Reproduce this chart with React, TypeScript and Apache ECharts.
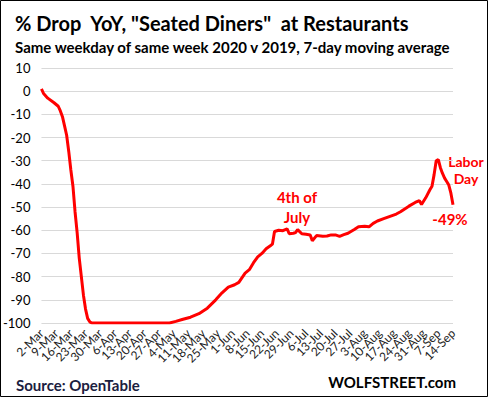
import React, { useEffect, useRef } from "react";
import * as echarts from "echarts";

const MONTHS = ["Jan", "Feb", "Mar", "Apr", "May", "Jun", "Jul", "Aug", "Sep", "Oct", "Nov", "Dec"];
const START = { year: 2020, month: 2, day: 2 };
const DAY_COUNT = 197;
const LABEL_EVERY = 7;

// daily category labels 2-Mar ... 14-Sep
const categories: string[] = [];
for (let i = 0; i < DAY_COUNT; i++) {
  const d = new Date(Date.UTC(START.year, START.month, START.day + i));
  categories.push(`${d.getUTCDate()}-${MONTHS[d.getUTCMonth()]}`);
}

// readings (day offset from 2-Mar, % drop YoY)
const pointDays = [
  0, 1, 3, 6, 8, 9, 10, 11, 12, 13, 14, 15, 16, 17, 18, 19, 20, 21, 22, 23, 24,
  61, 64, 67, 71, 75, 79, 83, 86, 89, 92, 94, 97, 99, 101, 103, 105, 107, 109, 110,
  111, 113, 115, 117, 118, 120, 121, 122, 124, 126, 128, 129, 131, 134, 136, 138, 140,
  142, 144, 146, 149, 151, 154, 156, 158, 160, 163, 166, 169, 171, 173, 175, 178, 180,
  181, 183, 185, 186, 187, 188, 189, 190, 191, 192, 193, 194, 195, 196,
];
const pointValues = [
  1, -1, -3, -5, -6.5, -8.5, -11, -15, -19, -26, -34, -41, -52, -61, -72, -80, -88, -94, -98, -99.5, -100,
  -100, -99.3, -98.5, -97.5, -96, -93.6, -90, -87, -84.5, -83.5, -82.5, -78.5, -77, -74, -71.5, -70, -68, -66.7, -66,
  -60.5, -60, -60.2, -59.4, -61.5, -61.3, -61, -59.7, -61.5, -61.7, -62, -64.5, -62.3, -62.6, -62.5, -62, -62,
  -62.6, -61.9, -61.3, -59.7, -58.5, -58.3, -58.5, -57, -56, -55, -54, -53, -52, -50.8, -49.6, -48, -47.2,
  -48.9, -46, -42.5, -41, -36, -30, -29.5, -33, -35.5, -37.5, -39, -40.5, -44, -49,
];

const Y_MIN = -100;
const Y_MAX = 10;
const Y_STEP = 10;

const FONT = "Lato";

export default function App() {
  const ref = useRef<HTMLDivElement>(null);
  useEffect(() => {
    document.body.style.margin = "0";
    if (!ref.current) return;
    const chart = echarts.init(ref.current, null, { renderer: "svg" });
    const data = pointDays.map((d, i) => [categories[d], pointValues[i]]);
    const red = { fontFamily: FONT, fontWeight: "bold", fontSize: 15, fill: "#ff0000", textAlign: "center", textVerticalAlign: "middle" };
    chart.setOption({
      animation: false,
      backgroundColor: "#ffffff",
      grid: { left: 37, right: 35, top: 68, bottom: 74, containLabel: false },
      xAxis: {
        type: "category",
        data: categories,
        boundaryGap: false,
        axisLine: { show: false },
        axisTick: { show: false },
        splitLine: { show: false },
        axisLabel: {
          interval: 0,
          rotate: 45,
          margin: 8,
          hideOverlap: false,
          formatter: (value: string, index: number) => (index % LABEL_EVERY === 0 ? value : ""),
          fontFamily: FONT,
          fontSize: 12,
          color: "#222",
        },
      },
      yAxis: {
        type: "value",
        min: Y_MIN,
        max: Y_MAX,
        interval: Y_STEP,
        axisLine: { show: false },
        axisTick: { show: false },
        splitLine: { lineStyle: { color: "#d9d9d9", width: 1 } },
        axisLabel: { fontFamily: FONT, fontSize: 13, color: "#000", margin: 11 },
      },
      series: [
        {
          type: "line",
          data,
          showSymbol: false,
          symbol: "none",
          lineStyle: { color: "#ff0000", width: 3 },
          itemStyle: { color: "#ff0000" },
        },
      ],
      graphic: [
        {
          type: "rect",
          shape: { x: 0.5, y: 0.5, width: 487, height: 396 },
          style: { fill: "none", stroke: "#000", lineWidth: 1 },
          silent: true,
        },
        {
          type: "text",
          x: 15,
          y: 23,
          style: {
            text: '% Drop  YoY, "Seated Diners"  at Restaurants',
            fontFamily: FONT,
            fontWeight: "bold",
            fontSize: 20,
            fill: "#000",
            textVerticalAlign: "middle",
          },
        },
        {
          type: "text",
          x: 15,
          y: 47,
          style: {
            text: "Same weekday of same week 2020 v 2019, 7-day moving average",
            fontFamily: FONT,
            fontWeight: "bold",
            fontSize: 15,
            fill: "#000",
            textVerticalAlign: "middle",
          },
        },
        {
          type: "text",
          x: 297,
          y: 207,
          style: { ...red, text: "4th of\nJuly", lineHeight: 20 },
        },
        {
          type: "text",
          x: 466,
          y: 170,
          style: { ...red, text: "Labor\nDay", fontSize: 14, lineHeight: 17 },
        },
        {
          type: "text",
          x: 450,
          y: 219,
          style: { ...red, text: "-49%" },
        },
        {
          type: "text",
          x: 16,
          y: 385,
          style: { text: "Source: OpenTable", fontFamily: FONT, fontWeight: "bold", fontSize: 15, fill: "#1b2040", textVerticalAlign: "middle" },
        },
        {
          type: "text",
          x: 456,
          y: 382,
          style: { text: "WOLFSTREET.com", fontFamily: FONT, fontWeight: "bold", fontSize: 15, fill: "#000", textAlign: "right", textVerticalAlign: "middle" },
        },
      ],
    });
    return () => chart.dispose();
  }, []);
  return <div ref={ref} style={{ width: 488, height: 397 }} />;
}
